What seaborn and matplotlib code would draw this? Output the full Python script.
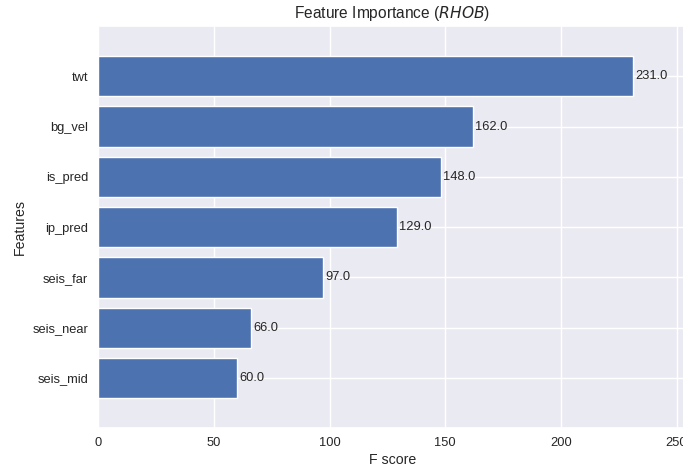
import matplotlib
matplotlib.use("Agg")
import matplotlib.pyplot as plt
import seaborn as sns
import numpy as np

# Feature importance scores (F score) for the RHOB model
features = ["seis_mid", "seis_near", "seis_far", "ip_pred", "is_pred", "bg_vel", "twt"]
scores = [60.0, 66.0, 97.0, 129.0, 148.0, 162.0, 231.0]
xticks = [0, 50, 100, 150, 200, 250]

sns.set_theme(style="darkgrid")
plt.rcParams["font.family"] = ["Liberation Sans", "DejaVu Sans"]

fig = plt.figure(figsize=(6.83, 4.69), dpi=100)
W, H = 683, 469
left, right, top, bottom = 98.3, 686.0, 26.0, 428.3
ax = fig.add_axes([left / W, (H - bottom) / H, (right - left) / W, (bottom - top) / H])

ylocs = np.arange(len(scores))
ax.barh(ylocs, scores, height=0.8, align="center", color="#4C72B0")

for x, y in zip(scores, ylocs):
    ax.text(x + 1, y, f"{x:.1f}", va="center", fontsize=9.3, color="#262626")

ax.set_yticks(ylocs)
ax.set_yticklabels(features)
ax.set_xticks(xticks)
ax.set_xlim(0, max(scores) * 1.1)
ax.set_ylim(-1, len(scores))

ax.tick_params(axis="both", labelsize=9.3, colors="#262626", length=0)
ax.tick_params(axis="x", pad=6.5)
ax.tick_params(axis="y", pad=7.2)
ax.set_xlabel("F score", fontsize=10.2, color="#262626", labelpad=3)
ax.set_ylabel("Features", fontsize=10.2, color="#262626", labelpad=4)
ax.set_title("Feature Importance ($RHOB$)", fontsize=11.2, color="#262626")

fig.savefig("out.png", dpi=100)
